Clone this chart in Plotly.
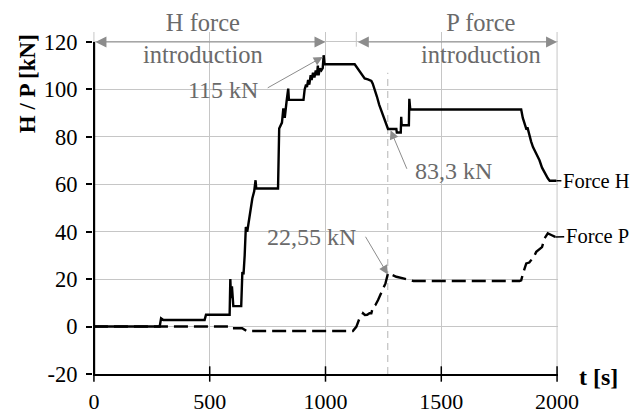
import plotly.graph_objects as go

# ---------------- data ----------------
H_time = [0, 284, 290, 300, 478, 484, 586, 589, 592, 596, 602, 636, 641, 646, 651, 656, 662, 668, 676, 684,
          692, 698, 701, 795, 800, 806, 812, 818, 824, 832, 839, 842, 905, 910, 916, 920, 925, 930, 936, 940,
          946, 952, 958, 963, 967, 970, 976, 982, 988, 992, 996, 1126, 1135, 1145, 1155, 1169, 1183, 1198, 1204, 1212,
          1222, 1232, 1245, 1255, 1265, 1270, 1306, 1308, 1325, 1327, 1329, 1360, 1362, 1366, 1845, 1852, 1860, 1868, 1872, 1881,
          1888, 1896, 1905, 1915, 1924, 1935, 1945, 1953, 1960, 1968, 1997]
H_force = [0, 0, 3.5, 2.8, 2.8, 5.0, 5.0, 20.0, 12.0, 17.0, 8.6, 8.6, 23.0, 22.0, 30.0, 42.0, 40.0, 44.0, 50.0, 54.0,
           57.0, 61.7, 58.2, 58.2, 83.5, 85.0, 86.0, 92.0, 88.0, 95.0, 100.3, 95.6, 95.6, 100.0, 102.0, 101.0, 104.0, 102.0, 106.0, 104.0,
           107.0, 105.0, 108.0, 106.0, 110.0, 106.0, 108.8, 108.0, 109.0, 114.4, 110.6, 110.6, 109.4, 108.0, 106.5, 104.6, 104.2, 103.6, 102.4, 100.3,
           97.0, 93.5, 90.0, 87.0, 84.2, 83.3, 83.3, 81.8, 81.8, 88.4, 84.9, 84.9, 96.0, 91.5, 91.5, 88.0, 85.6, 83.0, 84.0, 80.0,
           78.0, 75.7, 74.0, 72.0, 70.1, 67.0, 65.0, 63.8, 62.5, 61.5, 61.5]

P_time = [0, 586, 590, 640, 660, 1118, 1133, 1145, 1154, 1162, 1170, 1180, 1190, 1198, 1205, 1215, 1227, 1234, 1248, 1259,
          1270, 1290, 1306, 1340, 1363, 1380, 1838, 1845, 1855, 1867, 1880, 1889, 1900, 1910, 1925, 1935, 1946, 1960, 1975, 1992]
P_force = [0, 0, -0.7, -0.7, -1.9, -1.9, -0.1, 3.0, 4.1, 5.6, 4.9, 5.0, 5.6, 5.6, 8.3, 9.0, 11.2, 12.6, 15.4, 18.2,
           22.55, 21.8, 21.0, 20.2, 19.6, 19.2, 19.2, 19.5, 23.1, 26.6, 27.0, 28.0, 29.5, 31.5, 32.9, 33.5, 37.2, 39.3, 38.6, 37.8]

x_ticks = [0, 500, 1000, 1500, 2000]
y_ticks = [-20, 0, 20, 40, 60, 80, 100, 120]
y_tick_labels = ["-20", "0", "20", "40", "60", "80", "100", "120"]

phase_bounds = [0, 1000, 1133, 2000]          # H intro | break | P intro
phase_labels = ["H force<br>introduction", "break", "P force<br>introduction"]
break_line_t = 1269

FONT = "Liberation Serif"
GRAY_TXT = "#6a6a6a"
GRAY_LN = "#8c8c8c"
GRID = "#c6c6c6"

fig = go.Figure()

fig.add_trace(go.Scatter(x=H_time, y=H_force, mode="lines", name="Force H",
                         line=dict(color="black", width=2.4)))
fig.add_trace(go.Scatter(x=P_time, y=P_force, mode="lines", name="Force P",
                         line=dict(color="black", width=2.4, dash="14px,6px")))
# crossing tick marks on the time axis
fig.add_trace(go.Scatter(x=x_ticks, y=[-20] * len(x_ticks), mode="markers", cliponaxis=False,
                         marker=dict(symbol="line-ns", size=11, line=dict(color="black", width=1.5)),
                         hoverinfo="skip"))

shapes = []
shapes.append(dict(type="line", xref="x", yref="y", x0=0, x1=0, y0=-20, y1=120,
                   line=dict(color="black", width=2.5), layer="above"))
shapes.append(dict(type="line", xref="x", yref="y", x0=0, x1=0, y0=120, y1=124.2,
                   line=dict(color=GRID, width=1), layer="below"))
shapes.append(dict(type="line", xref="x", yref="y", x0=2000, x1=2000, y0=-20, y1=124.2,
                   line=dict(color=GRID, width=1), layer="below"))
shapes.append(dict(type="line", xref="x", yref="y", x0=phase_bounds[2], x1=phase_bounds[2], y0=118, y1=124.2,
                   line=dict(color=GRID, width=1), layer="below"))
shapes.append(dict(type="line", xref="x", yref="y", x0=break_line_t, x1=break_line_t, y0=-20, y1=107,
                   line=dict(color="#b4b4b4", width=1, dash="7px,5px"), layer="below"))

ann = []
for a, b in [(phase_bounds[0], phase_bounds[1]), (phase_bounds[2], phase_bounds[3])]:
    ann.append(dict(x=b, y=120, ax=a, ay=120, xref="x", yref="y", axref="x", ayref="y",
                    text="", showarrow=True, arrowside="end+start", arrowhead=2, startarrowhead=2,
                    arrowsize=2.2, startarrowsize=2.2, arrowwidth=1, arrowcolor=GRAY_LN))
ann.append(dict(x=470, y=121.5, text=phase_labels[0], showarrow=False, xref="x", yref="y",
                font=dict(family=FONT, size=24.5, color=GRAY_TXT)))
ann.append(dict(x=1064, y=127.8, text=phase_labels[1], showarrow=False, xref="x", yref="y",
                font=dict(family=FONT, size=24.5, color=GRAY_TXT)))
ann.append(dict(x=1670, y=121.5, text=phase_labels[2], showarrow=False, xref="x", yref="y",
                font=dict(family=FONT, size=24.5, color=GRAY_TXT)))

callouts = [
    ("115 kN", 556, 99.8, 744, 100.3, 988, 113.7),
    ("83,3 kN", 1553, 65.5, 1354, 65.9, 1281, 82.8),
    ("22,55 kN", 940, 37.7, 1169, 38.5, 1269, 22.0),
]
for txt, tx, ty, x0, y0, x1, y1 in callouts:
    ann.append(dict(x=tx, y=ty, text=txt, showarrow=False, xref="x", yref="y",
                    font=dict(family=FONT, size=24, color=GRAY_TXT)))
    ann.append(dict(x=x1, y=y1, ax=x0, ay=y0, xref="x", yref="y", axref="x", ayref="y",
                    text="", showarrow=True, arrowhead=2, arrowsize=1.8, arrowwidth=1,
                    arrowcolor=GRAY_LN))

ann.append(dict(x=H_time[-1], y=H_force[-1], text="Force H", xref="x", yref="y",
                showarrow=True, arrowhead=0, arrowwidth=1.5, arrowcolor="black", ax=40, ay=0,
                font=dict(family=FONT, size=20.5, color="black")))
ann.append(dict(x=P_time[-1], y=P_force[-1], text="Force P", xref="x", yref="y",
                showarrow=True, arrowhead=0, arrowwidth=1.5, arrowcolor="black", ax=42, ay=-1,
                font=dict(family=FONT, size=20.5, color="black")))

ann.append(dict(x=-0.142, y=102.6, xref="paper", yref="y", xanchor="center", yanchor="middle",
                text="<b>H / P [kN]</b>", textangle=-90,
                showarrow=False, font=dict(family=FONT, size=23, color="black")))
ann.append(dict(x=1.04, y=-0.008, xref="paper", yref="paper", xanchor="left", yanchor="middle",
                text="<b>t [s]</b>",
                showarrow=False, font=dict(family=FONT, size=24, color="black")))

fig.update_layout(
    width=633, height=414,
    margin=dict(l=93, r=75, t=32, b=40),
    paper_bgcolor="white", plot_bgcolor="white",
    showlegend=False,
    shapes=shapes, annotations=ann,
    font=dict(family=FONT, size=22, color="black"),
)
fig.update_xaxes(range=[-4, 2004], tickvals=x_ticks, showgrid=True, gridcolor=GRID, gridwidth=1,
                 zeroline=False, showline=True, linecolor="black", linewidth=2, automargin=False,
                 ticks="", ticklabelstandoff=7, tickfont=dict(family=FONT, size=22, color="black"))
fig.update_yaxes(range=[-20, 124.2], tickvals=y_ticks, ticktext=y_tick_labels, automargin=False,
                 showgrid=True, gridcolor=GRID, gridwidth=1,
                 zeroline=False, showline=False, ticks="outside", ticklen=6, tickcolor="black",
                 tickwidth=1.5, ticklabelstandoff=4, tickfont=dict(family=FONT, size=22.5, color="black"))

# remove the default page margin so the 633x414 figure fills the window exactly
fig.write_html("out.html", config={"displayModeBar": False},
               post_script="document.body.style.margin='0';document.body.style.overflow='hidden';")
